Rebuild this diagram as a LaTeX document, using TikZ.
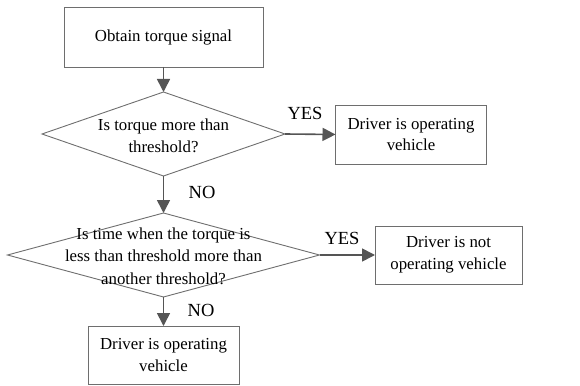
\documentclass[tikz,border=0pt]{standalone}
\usepackage{fontspec}
\setmainfont{Liberation Serif}
\usetikzlibrary{shapes.geometric,arrows.meta}
\definecolor{edgegray}{HTML}{6E6E6E}
\definecolor{arrgray}{HTML}{555555}
\begin{document}
\begin{tikzpicture}[x=1pt,y=-1pt,
  procbox/.style={draw=edgegray, line width=0.9pt, inner sep=0pt, outer sep=0pt, align=center,
    font=\fontsize{16.8}{21.7}\selectfont},
  dia/.style={draw=edgegray, line width=0.9pt, shape=diamond, inner sep=0pt, outer sep=0pt},
  dtext/.style={align=center, inner sep=0pt, font=\fontsize{16.8}{22.3}\selectfont},
  lbl/.style={inner sep=0pt, font=\fontsize{18.5}{20}\selectfont},
  arr/.style={draw=arrgray, line width=1.6pt, -{Triangle[width=13pt,length=13pt]}}]
\useasboundingbox (0,0) rectangle (580,385);
\node[procbox, minimum width=199pt, minimum height=60pt] (b1) at (163.5,37) {Obtain torque signal};
\node[dia, minimum width=243pt, minimum height=84pt] (d1) at (163.5,134) {};
\node[dtext] (t1) at (163.5,136) {Is torque more than\\threshold?};
\node[procbox, minimum width=151pt, minimum height=59pt] (b2) at (411,134.5) {Driver is operating\\vehicle};
\node[dia, minimum width=312pt, minimum height=84pt] (d2) at (163.5,255) {};
\node[dtext] (t2) at (163.5,256) {Is time when the torque is\\less than threshold more than\\another threshold?};
\node[procbox, minimum width=147pt, minimum height=58pt] (b3) at (448.5,255) {Driver is not\\operating vehicle};
\node[procbox, minimum width=151pt, minimum height=58pt] (b4) at (163.5,355) {Driver is operating\\vehicle};
\node[lbl] (yes1) at (305,113) {YES};
\node[lbl] (no1) at (202,192) {NO};
\node[lbl] (yes2) at (342,238) {YES};
\node[lbl] (no2) at (201,310) {NO};
\draw[arr] (b1.south) -- (d1.north);
\draw[arr] (d1.east) -- (b2.west);
\draw[arr] (d1.south) -- (d2.north);
\draw[arr] (d2.east) -- (b3.west);
\draw[arr] (d2.south) -- (b4.north);
\end{tikzpicture}
\end{document}
